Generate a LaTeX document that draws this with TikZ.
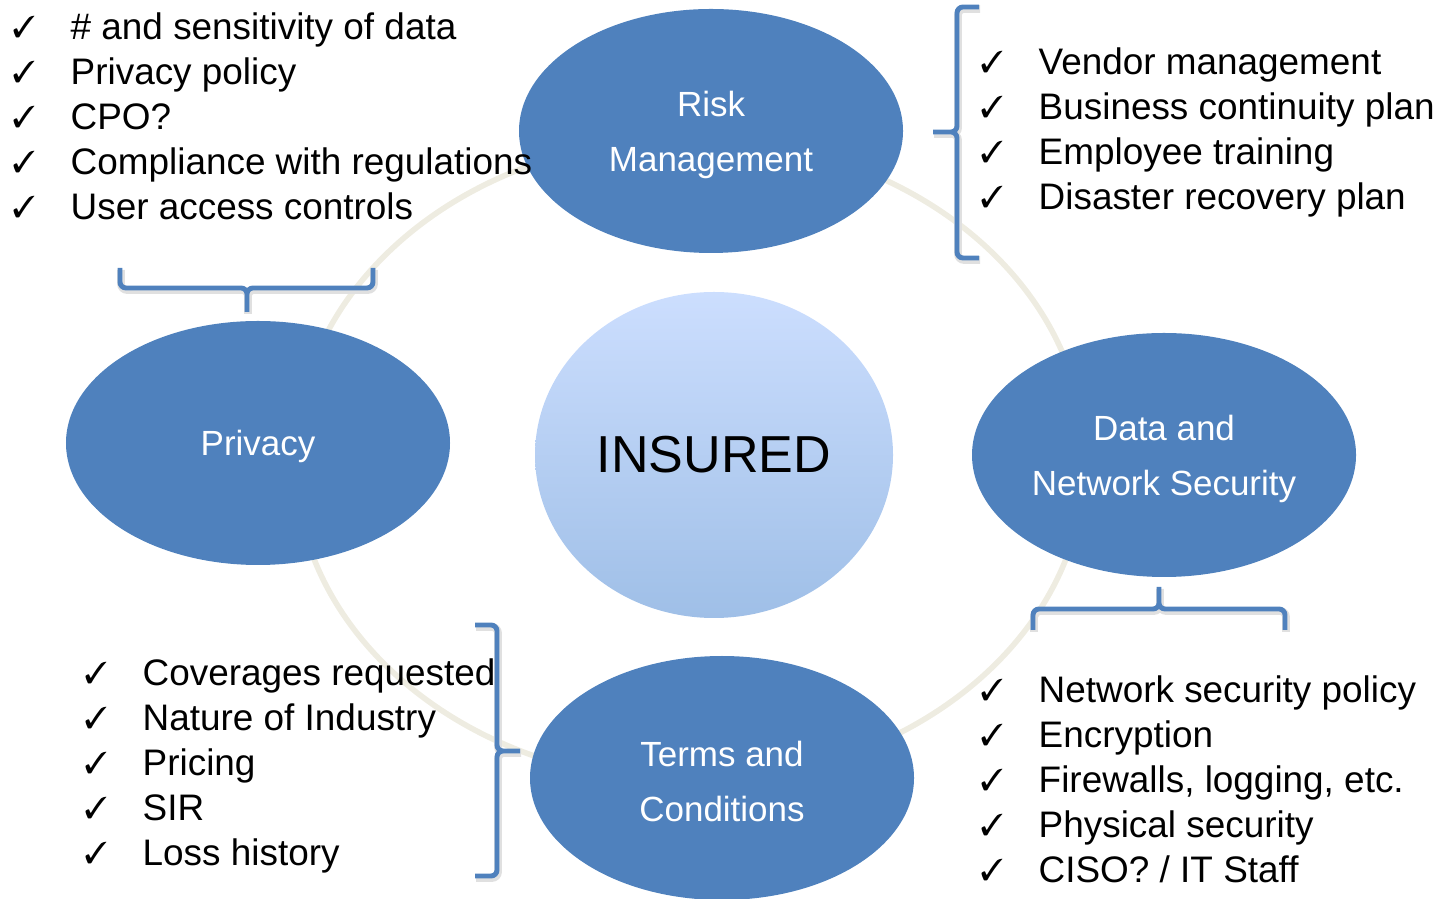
\documentclass[tikz,border=0pt]{standalone}
\usepackage{fontspec}
\setmainfont{Liberation Sans}
\usepackage{pifont}
\usepackage{tikz}
\usetikzlibrary{shapes.geometric, positioning}
\definecolor{ovalblue}{HTML}{4F81BD}
\definecolor{ringtan}{HTML}{EEECE1}
\definecolor{coretop}{HTML}{CCDEFE}
\definecolor{corebottom}{HTML}{9FBFE7}
\tikzstyle{topic} = [ellipse, minimum width=3.84cm, minimum height=2.44cm, inner sep=0pt, fill=ovalblue, text=white, align=center, font=\fontsize{9.95}{15.6}\selectfont]
\tikzstyle{core} = [ellipse, minimum width=3.58cm, minimum height=3.26cm, inner sep=0pt, top color=coretop, bottom color=corebottom, font=\fontsize{14.8}{17}\selectfont]
\tikzstyle{checklist} = [anchor=west, align=left, inner sep=0pt, font=\fontsize{10.5}{12.8}\selectfont]
\tikzstyle{ring} = [draw=ringtan, line width=1.6pt]
\tikzstyle{bracket} = [draw=ovalblue, line width=1.4pt, rounded corners=0.06cm, preaction={draw=black!12, line width=2.2pt, transform canvas={shift={(0.01cm,-0.02cm)}}}]
\newcommand\chk{\makebox[0.58cm][l]{\fontsize{8.6}{12.8}\selectfont\raisebox{0.02cm}{\ding{51}}}}
\newcommand\topicstrut{\rule{0pt}{0.33cm}}

\begin{document}
\begin{tikzpicture}[node distance=3.24cm]
\useasboundingbox (0,0) rectangle (14.47,-8.99);
\draw [ring] (6.90,-4.60) ellipse (3.95cm and 3.22cm);

\node (insured) [core] at (7.14,-4.55) {INSURED};
\node (risk) [topic, above of=insured, xshift=-0.03cm] {\topicstrut Risk\\Management};
\node (terms) [topic, below of=insured, xshift=0.08cm, yshift=0.01cm] {\topicstrut Terms and\\Conditions};
\node (privacy) [topic, left of=insured, xshift=-1.32cm, yshift=0.12cm] {\topicstrut Privacy};
\node (datasec) [topic, right of=insured, xshift=1.26cm] {\topicstrut Data and\\Network Security};

\node (privlist) [checklist] at (0.12,-1.16) {\chk\# and sensitivity of data\\\chk Privacy policy\\\chk CPO?\\\chk Compliance with regulations\\\chk User access controls};
\node (risklist) [checklist] at (9.80,-1.32) {\chk Vendor management\\\chk Business continuity plan\\\chk Employee training\\\chk Disaster recovery plan};
\node (datalist) [checklist] at (9.80,-7.79) {\chk Network security policy\\\chk Encryption\\\chk Firewalls, logging, etc.\\\chk Physical security\\\chk CISO? / IT Staff};
\node (termslist) [checklist] at (0.84,-7.66) {\chk Coverages requested\\\chk Nature of Industry\\\chk Pricing\\\chk SIR\\\chk Loss history};

% brackets tying each list to its topic
\draw [bracket] (1.20,-2.68) -- (1.20,-2.88) -- (2.47,-2.88) -- (2.47,-3.12)
  (2.47,-3.12) -- (2.47,-2.88) -- (3.73,-2.88) -- (3.73,-2.68);
\draw [bracket] (9.79,-0.07) -- (9.57,-0.07) -- (9.57,-1.32) -- (9.33,-1.32)
  (9.33,-1.32) -- (9.57,-1.32) -- (9.57,-2.58) -- (9.79,-2.58);
\draw [bracket] (10.33,-6.30) -- (10.33,-6.09) -- (11.59,-6.09) -- (11.59,-5.87)
  (11.59,-5.87) -- (11.59,-6.09) -- (12.85,-6.09) -- (12.85,-6.30);
\draw [bracket] (4.75,-6.25) -- (4.97,-6.25) -- (4.97,-7.51) -- (5.20,-7.51)
  (5.20,-7.51) -- (4.97,-7.51) -- (4.97,-8.76) -- (4.75,-8.76);
\end{tikzpicture}
\end{document}
